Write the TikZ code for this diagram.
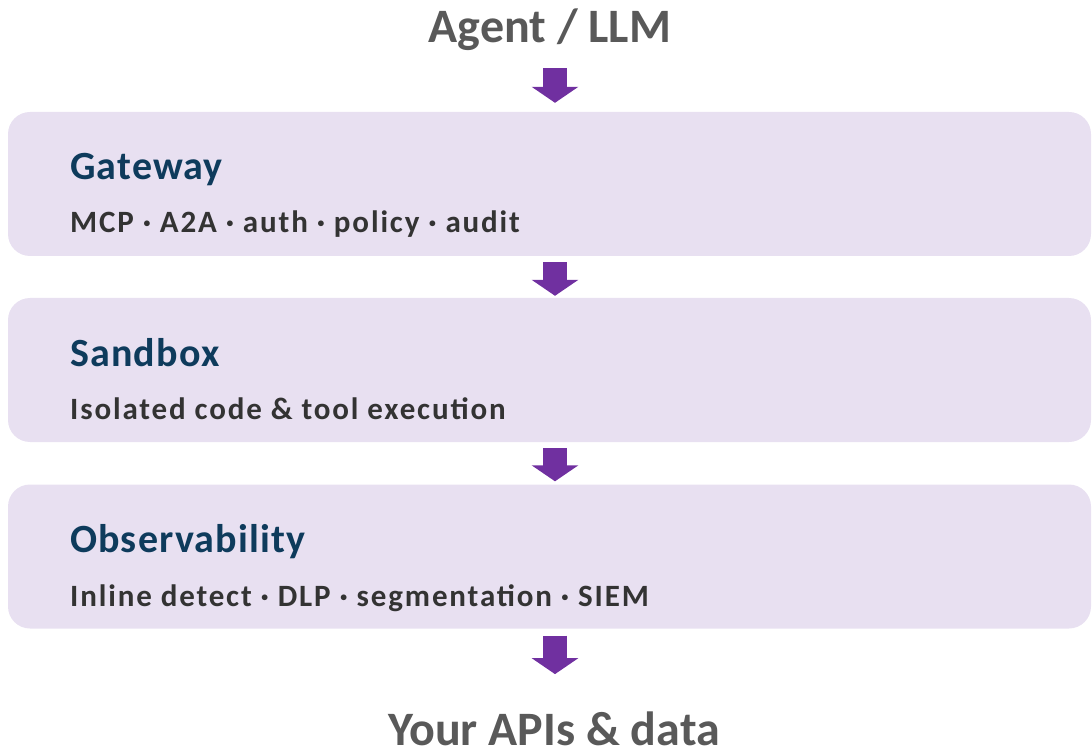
\documentclass[tikz,border=0pt]{standalone}
\usepackage{fontspec}
\setmainfont{Carlito}
\newfontfamily\headfont[LetterSpace=3.0]{Carlito}
\newfontfamily\subfont[LetterSpace=6.0]{Carlito}
\usepackage{xcolor}
\usetikzlibrary{arrows.meta, positioning}

\definecolor{layerfill}{HTML}{E8E0F1}
\definecolor{flowpurple}{HTML}{7030A0}
\definecolor{headnavy}{HTML}{0E3B5C}
\definecolor{subgray}{HTML}{333333}
\definecolor{endgray}{HTML}{595959}

\tikzset{
    layer/.style={fill=layerfill, rounded corners=22pt, minimum width=1083pt, minimum height=144pt, inner sep=0pt},
    endpoint/.style={font=\fontsize{48}{56}\selectfont\bfseries, text=endgray, inner sep=0pt, anchor=base},
    layerhead/.style={font=\headfont\fontsize{40}{46}\selectfont\bfseries, text=headnavy, inner sep=0pt, anchor=base west},
    layersub/.style={font=\subfont\fontsize{31}{36}\selectfont\bfseries, text=subgray, inner sep=0pt, anchor=base west},
    flow/.style={draw=flowpurple, line width=24pt, -{Triangle[width=46pt,length=16pt]}}
}

\begin{document}
\begin{tikzpicture}[x=1pt, y=-1pt]
    \useasboundingbox (0,0) rectangle (1092,751);

    % end points of the stack
    \node[endpoint] (agent) at (550,43) {Agent / LLM};
    \node[endpoint] (apis) at (554,745) {Your APIs \& data};

    % the three layers
    \node[layer] (gw) at (549.5,184) {};
    \node[layer] (sb) at (549.5,370) {};
    \node[layer] (ob) at (549.5,556.5) {};

    \node[layerhead] (gwhead) at (70,180) {Gateway};
    \node[layersub] (gwsub) at (70,233) {MCP · A2A · auth · policy · audit};
    \node[layerhead] (sbhead) at (70,366) {Sandbox};
    \node[layersub] (sbsub) at (70,419) {Isolated code \& tool execution};
    \node[layerhead] (obhead) at (70,552) {Observability};
    \node[layersub] (obsub) at (70,606) {Inline detect · DLP · segmentation · SIEM};

    % flow arrows between them
    \draw[flow] ([xshift=5pt]agent.south) ++(0,17) -- ([xshift=5.5pt,yshift=9pt]gw.north);
    \draw[flow] ([xshift=5.5pt,yshift=-6pt]gw.south) -- ([xshift=5.5pt,yshift=2pt]sb.north);
    \draw[flow] ([xshift=5.5pt,yshift=-6pt]sb.south) -- ([xshift=5.5pt,yshift=3pt]ob.north);
    \draw[flow] ([xshift=5.5pt,yshift=-7pt]ob.south) -- ([xshift=1pt,yshift=37pt]apis.north);
\end{tikzpicture}
\end{document}
